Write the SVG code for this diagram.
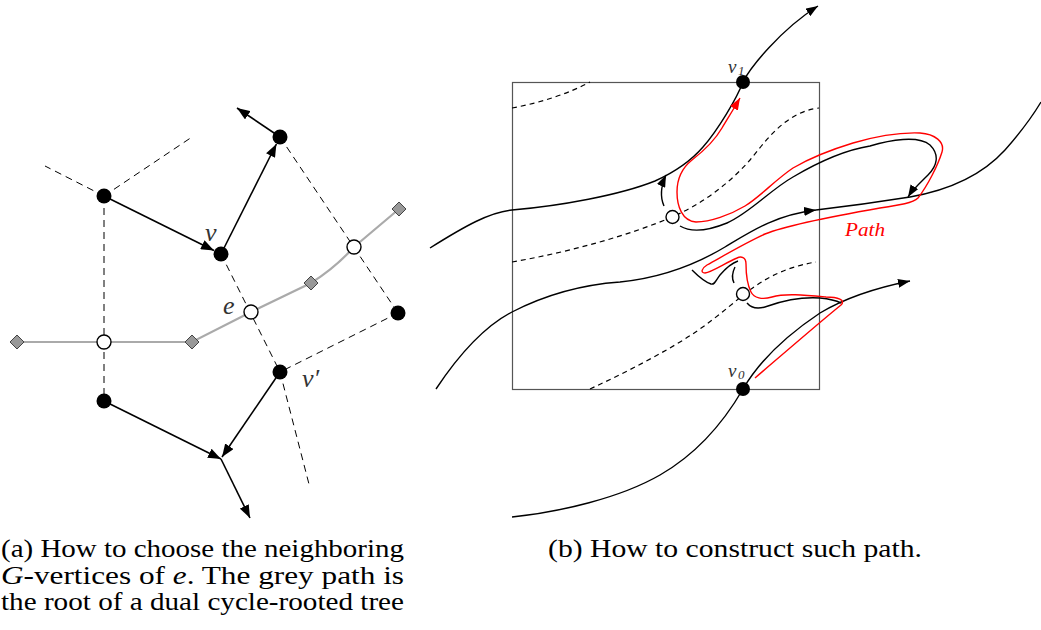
<svg xmlns="http://www.w3.org/2000/svg" width="1041" height="630" viewBox="0 0 1041 630">
<defs>
<style>
.blk{stroke:#000;stroke-width:1.6;fill:none}
.dash{stroke:#000;stroke-width:1;stroke-dasharray:7 5;fill:none}
.grey{stroke:#aaa;stroke-width:2.2;fill:none}
.node{fill:#000}
.open{fill:#fff;stroke:#000;stroke-width:1.4}
.dia{fill:#999;stroke:#444;stroke-width:1}
.crv{stroke:#000;stroke-width:1.4;fill:none}
.red{stroke:#f00;stroke-width:1.4;fill:none}
.rdash{stroke:#000;stroke-width:1.2;stroke-dasharray:5 4;fill:none}
.lbl{font-family:"Liberation Serif","DejaVu Serif",serif;font-style:italic;fill:#333}
.cap{font-family:"Liberation Serif","DejaVu Serif",serif;font-size:26px;fill:#000}
</style>
<marker id="ah" markerUnits="userSpaceOnUse" markerWidth="13" markerHeight="10" refX="13" refY="5" orient="auto">
<path d="M0,0 L13,5 L0,10 z" fill="#000"/>
</marker>
<marker id="ahs" markerUnits="userSpaceOnUse" markerWidth="12" markerHeight="9" refX="12" refY="4.5" orient="auto">
<path d="M0,0 L12,4.5 L0,9 z" fill="#000"/>
</marker>
<marker id="ahr" markerUnits="userSpaceOnUse" markerWidth="12" markerHeight="9" refX="12" refY="4.5" orient="auto">
<path d="M0,0 L12,4.5 L0,9 z" fill="#f00"/>
</marker>
</defs>

<!-- Panel (a) -->
<g id="connectors-a">
<path class="dash" d="M104,196 L192,137"/>
<path class="dash" d="M104,196 L45,166"/>
<path class="dash" d="M104,196 L104,401"/>
<path class="dash" d="M221,254 L280,372"/>
<path class="dash" d="M280,137 L398,313"/>
<path class="dash" d="M398,313 L280,372"/>
<path class="dash" d="M280,372 L310,488"/>
<path class="grey" d="M17,342 L104,342 L192,342 L251,312 L311,283 Q335,268 354,247 L399,209"/>
<path class="blk" d="M280,137 L237,108" marker-end="url(#ah)"/>
<path class="blk" d="M104,196 L214,250.5" marker-end="url(#ah)"/>
<path class="blk" d="M221,254 L276.4,144" marker-end="url(#ah)"/>
<path class="blk" d="M104,401 L221,459" marker-end="url(#ah)"/>
<path class="blk" d="M280,372 L222,457" marker-end="url(#ah)"/>
<path class="blk" d="M221,459 L250,518" marker-end="url(#ah)"/>
</g>
<g id="nodeT"><circle class="node" cx="280" cy="137" r="7.5"/></g>
<g id="nodeA"><circle class="node" cx="104" cy="196" r="7.5"/></g>
<g id="nodeV"><circle class="node" cx="221" cy="254" r="7.5"/><text class="lbl" x="205" y="241" font-size="26">v</text></g>
<g id="nodeR"><circle class="node" cx="398" cy="313" r="7.5"/></g>
<g id="nodeVp"><circle class="node" cx="280" cy="372" r="7.5"/><text class="lbl" x="302" y="386.5" font-size="26">v′</text></g>
<g id="nodeB"><circle class="node" cx="104" cy="401" r="7.5"/></g>
<g id="nodeO1"><circle class="open" cx="104" cy="342" r="7"/></g>
<g id="nodeE"><circle class="open" cx="251" cy="312" r="7"/><text class="lbl" x="223" y="314" font-size="26">e</text></g>
<g id="nodeO2"><circle class="open" cx="354" cy="247" r="7"/></g>
<g id="dia1"><polygon class="dia" points="17,335 24,342 17,349 10,342"/></g>
<g id="dia2"><polygon class="dia" points="192,335 199,342 192,349 185,342"/></g>
<g id="dia3"><polygon class="dia" points="311,276 318,283 311,290 304,283"/></g>
<g id="dia4"><polygon class="dia" points="399,202 406,209 399,216 392,209"/></g>

<!-- Panel (b) -->
<g id="box"><rect x="512.5" y="82.5" width="307" height="307" fill="none" stroke="#555" stroke-width="1.2"/></g>
<g id="connectors-b">
<path class="rdash" d="M512,108 C540,103 570,93 590,82"/>
<path class="rdash" d="M512,262 C570,252 630,235 672,217 C700,205 728,185 750,160 C765,142 785,112 819,108"/>
<path class="rdash" d="M590,389 C620,375 650,360 680,342 C705,327 725,310 743,295 C760,282 780,268 816,262"/>
<path class="crv" d="M430,248 C465,226 490,212 512,210 C560,206 620,195 655,181 C675,172 690,162 703,147 C718,130 737,98 743,82 C750,68 780,30 818,6" marker-end="url(#ahs)"/>
<path class="crv" d="M436,389 C462,350 487,325 512,312 C545,295 578,285 620,282 C660,278 695,265 725,247 C750,232 775,215 816,210" marker-end="url(#ahs)"/>
<path class="crv" d="M816,210 C850,206 885,201 910,197 C955,189 985,172 1005,150 C1020,133 1032,117 1041,102"/>
<path class="crv" d="M680,226 C690,232 705,232 727,223 C750,213 770,190 793,177 C815,164 845,150 870,146 C890,140 918,135 930,145 C940,155 937,166 928,175 C920,183 913,189 908,197" marker-end="url(#ahs)"/>
<path class="crv" d="M664,206 C660,197 661,186 666,175" marker-end="url(#ahs)"/>
<path class="crv" d="M692,270 C698,276 705,282 711,284 C715,285 716,280 720,275 C726,268 732,263 738,261"/>
<path class="crv" d="M735,267 C732,273 732,279 734,283"/>
<path class="crv" d="M747,303 C752,309 760,309 768,306 C785,300 805,297 820,298 C830,299 837,301 841,303"/>
<path class="crv" d="M512,517 C560,512 620,498 660,475 C700,452 725,420 743,389 C760,360 790,333 820,313 C845,298 875,288 910,281" marker-end="url(#ahs)"/>
<path class="red" d="M755,378 C790,348 820,322 841,305 C846,300 838,297 826,297 C805,295 785,293 772,297 C762,300 754,298 751,292 C747,284 746,272 746,264 C746,257 741,256 737,258 C725,263 712,272 705,273 C700,273 702,268 707,265 C725,255 745,243 765,234 C790,224 840,215 880,208 C900,205 913,203 918,198 C928,185 938,165 942,152 C945,142 935,134 920,133 C895,132 870,138 853,143 C830,150 810,158 793,168 C775,180 760,197 745,206 C730,215 710,222 696,222 C682,221 677,206 677,192 C677,180 682,168 692,160 C705,150 715,140 722,128 C728,118 733,110 740,98" marker-end="url(#ahr)"/>
</g>
<g id="nodeV1"><circle class="node" cx="743" cy="82" r="7"/><text class="lbl" x="728" y="73" font-size="19">v</text><text class="lbl" x="738" y="75" font-size="13" font-style="normal">1</text></g>
<g id="nodeV0"><circle class="node" cx="743" cy="389" r="7"/><text class="lbl" x="728" y="377" font-size="19">v</text><text class="lbl" x="738" y="379" font-size="13" font-style="normal">0</text></g>
<g id="nodeC1"><circle class="open" cx="672.5" cy="217" r="6.5"/></g>
<g id="nodeC2"><circle class="open" cx="743" cy="294" r="6.5"/></g>
<text class="lbl" x="845" y="236" font-size="19" fill="#f00" style="fill:#f00" textLength="40" lengthAdjust="spacingAndGlyphs">Path</text>

<!-- Captions -->
<text class="cap" x="1" y="557" textLength="403" lengthAdjust="spacingAndGlyphs">(a) How to choose the neighboring</text>
<text class="cap" x="1" y="583.5" textLength="403" lengthAdjust="spacingAndGlyphs"><tspan font-style="italic">G</tspan>-vertices of <tspan font-style="italic">e</tspan>.  The grey path is</text>
<text class="cap" x="1" y="610" textLength="403" lengthAdjust="spacingAndGlyphs">the root of a dual cycle-rooted tree</text>
<text class="cap" x="548" y="557" textLength="374" lengthAdjust="spacingAndGlyphs">(b) How to construct such path.</text>
</svg>
